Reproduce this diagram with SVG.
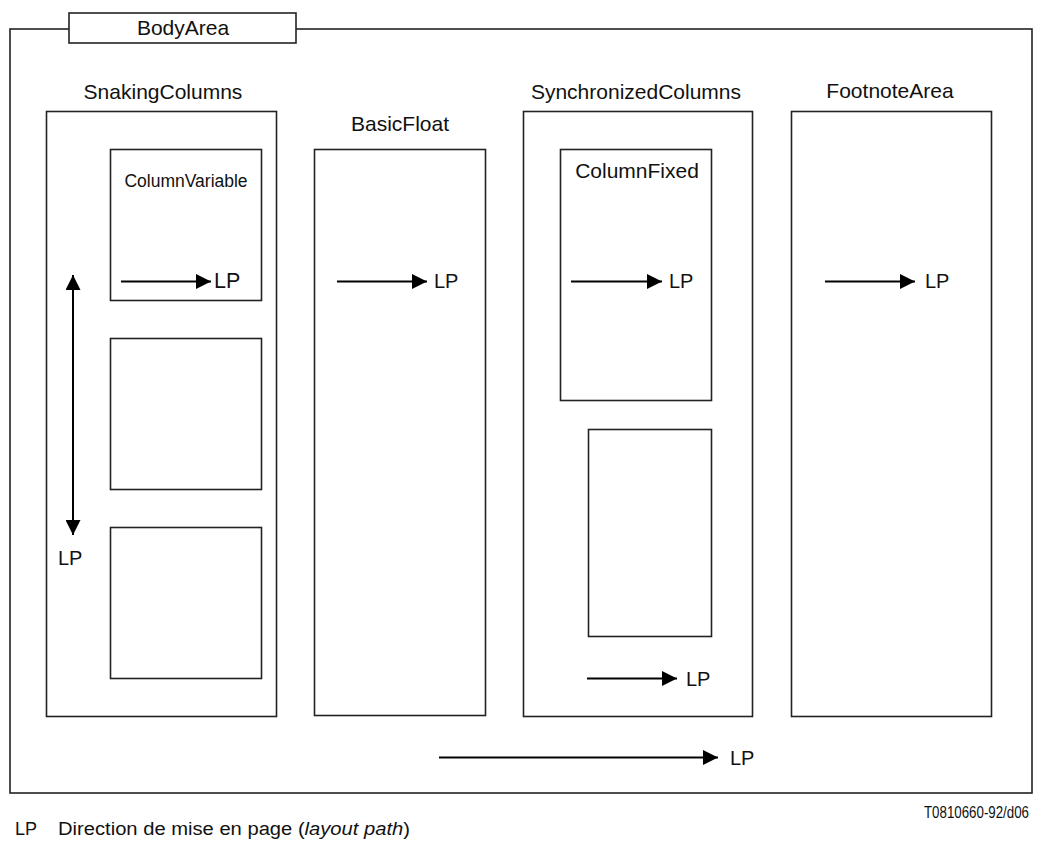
<svg xmlns="http://www.w3.org/2000/svg" width="1041" height="841" viewBox="0 0 1041 841">
  <style>
    .box { fill: none; stroke: #222; stroke-width: 1.6; }
    .frame { fill: #fff; stroke: #222; stroke-width: 1.6; }
    .lbl { font-family: "Liberation Sans", Arial, sans-serif; font-size: 21px; fill: #111; }
    .mid { text-anchor: middle; }
    .small { font-size: 17.5px; }
    .lp { font-family: "Liberation Sans", Arial, sans-serif; font-size: 20px; fill: #111; }
    .lp.big { font-size: 21.5px; }
    .arrow { stroke: #000; stroke-width: 2; fill: none; marker-end: url(#head); }
    .both { marker-start: url(#head); }
    .note { font-family: "Liberation Sans", Arial, sans-serif; fill: #111; }
  </style>
  <defs>
    <marker id="head" markerUnits="userSpaceOnUse" markerWidth="15" markerHeight="15" refX="15" refY="7.5" orient="auto-start-reverse">
      <path d="M0,0 L15,7.5 L0,15 z" fill="#000"/>
    </marker>
  </defs>

  <rect width="1041" height="841" fill="#fff"/>

  <!-- Body area frame with its title tab -->
  <g id="body-area">
    <rect class="box" x="10" y="29" width="1022" height="764"/>
    <rect class="frame" x="69" y="13" width="227" height="30"/>
    <text class="lbl mid" x="183" y="35">BodyArea</text>
  </g>

  <!-- Snaking columns: three variable columns stacked vertically -->
  <g id="snaking-columns">
    <text class="lbl mid" x="163" y="99">SnakingColumns</text>
    <rect class="box" x="46.5" y="111.5" width="230" height="605"/>
  </g>
  <g id="column-variable-1">
    <rect class="box" x="110.5" y="149.5" width="151" height="151"/>
    <text class="lbl mid small" x="186" y="187">ColumnVariable</text>
  </g>
  <g id="column-variable-2">
    <rect class="box" x="110.5" y="338.5" width="151" height="151"/>
  </g>
  <g id="column-variable-3">
    <rect class="box" x="110.5" y="527.5" width="151" height="151"/>
  </g>

  <!-- Basic float -->
  <g id="basic-float">
    <text class="lbl mid" x="400" y="131">BasicFloat</text>
    <rect class="box" x="314.5" y="149.5" width="171" height="566"/>
  </g>

  <!-- Synchronized columns with fixed columns -->
  <g id="synchronized-columns">
    <text class="lbl mid" x="636" y="99">SynchronizedColumns</text>
    <rect class="box" x="523.5" y="111.5" width="229" height="605"/>
  </g>
  <g id="column-fixed-1">
    <rect class="box" x="560.5" y="149.5" width="151" height="251"/>
    <text class="lbl mid" x="637" y="178">ColumnFixed</text>
  </g>
  <g id="column-fixed-2">
    <rect class="box" x="588.5" y="429.5" width="123" height="207"/>
  </g>

  <!-- Footnote area -->
  <g id="footnote-area">
    <text class="lbl mid" x="890" y="98">FootnoteArea</text>
    <rect class="box" x="791.5" y="111.5" width="200" height="605"/>
  </g>

  <!-- Layout path arrows -->
  <g id="connectors">
    <line class="arrow" x1="121" y1="281.5" x2="211" y2="281.5"/>
    <line class="arrow both" x1="73" y1="275" x2="73" y2="535"/>
    <line class="arrow" x1="337" y1="281.5" x2="427" y2="281.5"/>
    <line class="arrow" x1="571" y1="281.5" x2="662" y2="281.5"/>
    <line class="arrow" x1="587" y1="678.5" x2="677" y2="678.5"/>
    <line class="arrow" x1="825" y1="281.5" x2="915" y2="281.5"/>
    <line class="arrow" x1="439" y1="757.5" x2="718" y2="757.5"/>
  </g>

  <!-- LP labels at the arrow tips -->
  <g id="lp-labels">
    <text class="lp big" x="214" y="288">LP</text>
    <text class="lp" x="58" y="565">LP</text>
    <text class="lp" x="434" y="288">LP</text>
    <text class="lp" x="669" y="288">LP</text>
    <text class="lp" x="686" y="686">LP</text>
    <text class="lp" x="925" y="288">LP</text>
    <text class="lp" x="730" y="765">LP</text>
  </g>

  <!-- Legend and figure reference -->
  <g id="legend">
    <text class="note" x="924" y="818" font-size="16" textLength="105" lengthAdjust="spacingAndGlyphs">T0810660-92/d06</text>
    <text class="note" x="15" y="835" font-size="18">LP</text>
    <text class="note" x="58" y="835" font-size="18" textLength="352" lengthAdjust="spacingAndGlyphs">Direction de mise en page (<tspan font-style="italic">layout path</tspan>)</text>
  </g>
</svg>
